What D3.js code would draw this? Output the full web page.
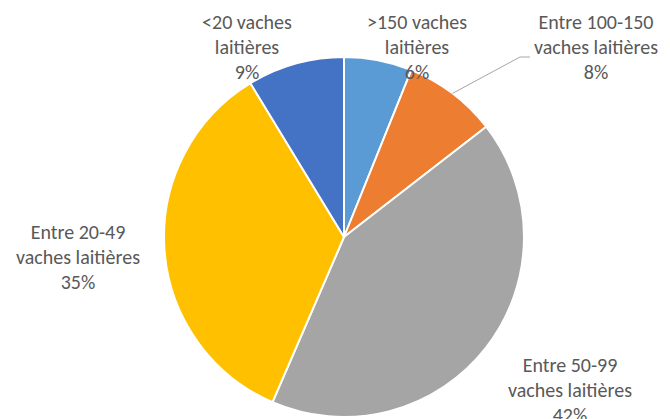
<!DOCTYPE html>
<html><head><meta charset="utf-8">
<script src="https://cdn.jsdelivr.net/npm/d3@7/dist/d3.min.js"></script>
<style>body{margin:0;background:#fff}svg{display:block}</style>
</head><body>
<svg id="c" width="670" height="419"></svg>
<script>
const categories = [">150 vaches laitières","Entre 100-150 vaches laitières","Entre 50-99 vaches laitières","Entre 20-49 vaches laitières","<20 vaches laitières"];
const values = [6.1, 8.4, 42.0, 34.8, 8.7];
const colors = ["#5B9BD5","#ED7D31","#A5A5A5","#FFC000","#4472C4"];
const labelLines = [[">150 vaches","laitières"],["Entre 100-150","vaches laitières"],["Entre 50-99","vaches laitières"],["Entre 20-49","vaches laitières"],["<20 vaches","laitières"]];

const svg = d3.select("#c");
const cx = 344, cy = 237, r = 180;
const pie = d3.pie().sort(null).value(d => d)(values);
const arc = d3.arc().innerRadius(0).outerRadius(r);
const g = svg.append("g").attr("transform", `translate(${cx},${cy})`);
g.selectAll("path").data(pie).join("path")
  .attr("d", arc).attr("fill", (d,i) => colors[i])
  .attr("stroke", "#fff").attr("stroke-width", 2).attr("stroke-linejoin","round");

// label positions (centre x, first baseline y)
const labelPos = [[417,29],[596,29],[570,372],[78,239],[247,29]];
const lh = 25;
const total = d3.sum(values);
labelPos.forEach((p,i) => {
  const t = svg.append("text").attr("text-anchor","middle")
    .attr("font-family","Carlito, Lato, 'Open Sans', sans-serif")
    .attr("font-size", 20).attr("fill","#595959");
  const lines = labelLines[i].concat([Math.round(values[i] / total * 100) + "%"]);
  lines.forEach((s,j) => t.append("tspan").attr("x", p[0]).attr("y", p[1] + j*lh).text(s));
});

// leader line for 100-150
const mid = (pie[1].startAngle + pie[1].endAngle)/2;
const sx = cx + Math.sin(mid)*r, sy = cy - Math.cos(mid)*r;
svg.append("polyline")
  .attr("points", `${sx},${sy} 520,57 530,57`)
  .attr("fill","none").attr("stroke","#A6A6A6").attr("stroke-width",1);
</script>
</body></html>
